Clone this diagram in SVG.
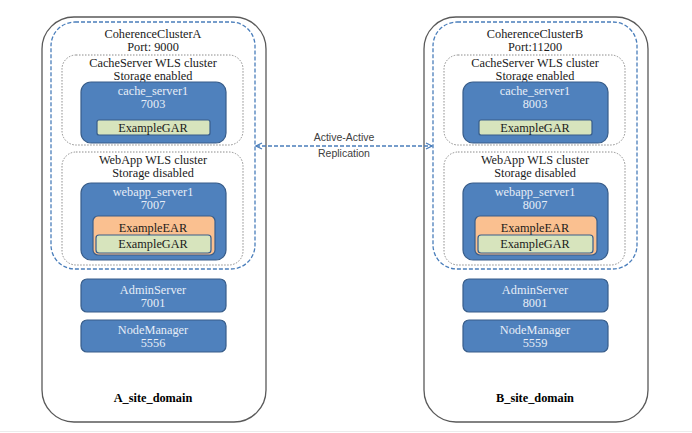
<svg xmlns="http://www.w3.org/2000/svg" width="692" height="433" viewBox="0 0 692 433">
<defs>
<style>
.dom{fill:#fff;stroke:#595959;stroke-width:1.3}
.clu{fill:none;stroke:#4a7ebb;stroke-width:1.3;stroke-dasharray:4 2}
.wls{fill:none;stroke:#8c8c8c;stroke-width:1;stroke-dasharray:1.5 1.5}
.srv{fill:#4f81bd;stroke:#385d8a;stroke-width:1.2}
.gar{fill:#d7e4bd;stroke:#385d8a;stroke-width:1.2}
.ear{fill:#fac090;stroke:#385d8a;stroke-width:1.2}
text{font-family:"Liberation Serif","DejaVu Serif",serif;font-size:12.3px;text-anchor:middle;fill:#1a1a1a}
.w{fill:#e6edf7}
.b{font-weight:bold;fill:#000}
.lbl{font-family:"Liberation Sans",Arial,sans-serif;font-size:10.5px;fill:#404040}
.con{stroke:#4a7ebb;stroke-width:1.3;stroke-dasharray:4 2;fill:none}
</style>
<marker id="chev" viewBox="0 0 8 8" refX="7" refY="4" markerWidth="8" markerHeight="8" markerUnits="userSpaceOnUse" orient="auto-start-reverse">
<path d="M1,1 L7,4 L1,7" fill="none" stroke="#4a7ebb" stroke-width="1.3"/>
</marker>
</defs>
<rect width="692" height="433" fill="#fff"/>
<line x1="0" y1="431.5" x2="692" y2="431.5" stroke="#ececec" stroke-width="1"/>

<g id="A_site_domain">
<rect class="dom" x="42" y="17" width="224" height="405" rx="32"/>
<text class="b" x="153" y="402">A_site_domain</text>
</g>
<g id="CoherenceClusterA">
<rect class="clu" x="51" y="22" width="204" height="247" rx="24"/>
<text x="153" y="38">CoherenceClusterA</text>
<text x="153" y="51">Port: 9000</text>
</g>
<g id="A_cache_cluster">
<rect class="wls" x="62" y="55" width="181" height="90" rx="14"/>
<text x="153" y="67">CacheServer WLS cluster</text>
<text x="153" y="80">Storage enabled</text>
</g>
<g id="A_cache_server1">
<rect class="srv" x="81" y="82" width="145" height="61" rx="10"/>
<text class="w" x="153" y="95">cache_server1</text>
<text class="w" x="153" y="108">7003</text>
</g>
<g id="A_cache_gar">
<rect class="gar" x="97" y="120" width="113" height="15" rx="2"/>
<text x="153" y="132">ExampleGAR</text>
</g>
<g id="A_webapp_cluster">
<rect class="wls" x="62" y="152" width="181" height="113" rx="14"/>
<text x="153" y="164">WebApp WLS cluster</text>
<text x="153" y="177">Storage disabled</text>
</g>
<g id="A_webapp_server1">
<rect class="srv" x="81" y="183" width="145" height="77" rx="10"/>
<text class="w" x="153" y="196">webapp_server1</text>
<text class="w" x="153" y="209">7007</text>
</g>
<g id="A_ear">
<rect class="ear" x="93" y="216" width="122" height="39" rx="5"/>
<text x="153" y="232">ExampleEAR</text>
</g>
<g id="A_ear_gar">
<rect class="gar" x="96" y="235" width="115" height="18" rx="3"/>
<text x="153" y="248">ExampleGAR</text>
</g>
<g id="A_AdminServer">
<rect class="srv" x="81" y="279" width="145" height="33" rx="6"/>
<text class="w" x="153" y="294">AdminServer</text>
<text class="w" x="153" y="307">7001</text>
</g>
<g id="A_NodeManager">
<rect class="srv" x="81" y="320" width="145" height="32" rx="6"/>
<text class="w" x="153" y="334">NodeManager</text>
<text class="w" x="153" y="347">5556</text>
</g>

<g id="B_site_domain">
<rect class="dom" x="424" y="17" width="224" height="405" rx="32"/>
<text class="b" x="535" y="402">B_site_domain</text>
</g>
<g id="CoherenceClusterB">
<rect class="clu" x="433" y="22" width="204" height="247" rx="24"/>
<text x="535" y="38">CoherenceClusterB</text>
<text x="535" y="51">Port:11200</text>
</g>
<g id="B_cache_cluster">
<rect class="wls" x="444" y="55" width="181" height="90" rx="14"/>
<text x="535" y="67">CacheServer WLS cluster</text>
<text x="535" y="80">Storage enabled</text>
</g>
<g id="B_cache_server1">
<rect class="srv" x="463" y="82" width="145" height="61" rx="10"/>
<text class="w" x="535" y="95">cache_server1</text>
<text class="w" x="535" y="108">8003</text>
</g>
<g id="B_cache_gar">
<rect class="gar" x="479" y="120" width="113" height="15" rx="2"/>
<text x="535" y="132">ExampleGAR</text>
</g>
<g id="B_webapp_cluster">
<rect class="wls" x="444" y="152" width="181" height="113" rx="14"/>
<text x="535" y="164">WebApp WLS cluster</text>
<text x="535" y="177">Storage disabled</text>
</g>
<g id="B_webapp_server1">
<rect class="srv" x="463" y="183" width="145" height="77" rx="10"/>
<text class="w" x="535" y="196">webapp_server1</text>
<text class="w" x="535" y="209">8007</text>
</g>
<g id="B_ear">
<rect class="ear" x="475" y="216" width="122" height="39" rx="5"/>
<text x="535" y="232">ExampleEAR</text>
</g>
<g id="B_ear_gar">
<rect class="gar" x="478" y="235" width="115" height="18" rx="3"/>
<text x="535" y="248">ExampleGAR</text>
</g>
<g id="B_AdminServer">
<rect class="srv" x="463" y="279" width="145" height="33" rx="6"/>
<text class="w" x="535" y="294">AdminServer</text>
<text class="w" x="535" y="307">8001</text>
</g>
<g id="B_NodeManager">
<rect class="srv" x="463" y="320" width="145" height="32" rx="6"/>
<text class="w" x="535" y="334">NodeManager</text>
<text class="w" x="535" y="347">5559</text>
</g>

<g id="connectors">
<line class="con" x1="256" y1="146" x2="432" y2="146" marker-start="url(#chev)" marker-end="url(#chev)"/>
<text class="lbl" x="344" y="141">Active-Active</text>
<text class="lbl" x="344" y="157">Replication</text>
</g>
</svg>
